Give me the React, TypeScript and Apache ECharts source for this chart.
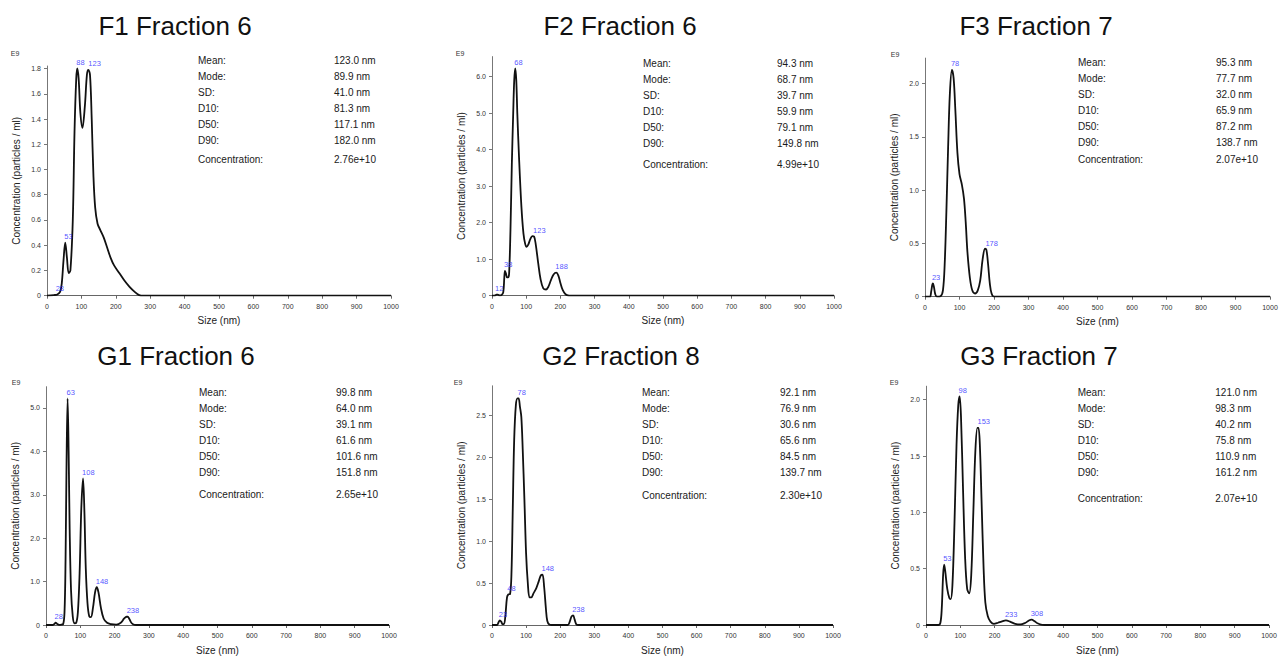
import React, { useEffect, useRef } from "react";
import * as echarts from "echarts";

// ---------- DATA ----------
const titles = ["F1 Fraction 6", "F2 Fraction 6", "F3 Fraction 7", "G1 Fraction 6", "G2 Fraction 8", "G3 Fraction 7"];
const statLabels = ["Mean:", "Mode:", "SD:", "D10:", "D50:", "D90:", "Concentration:"];

const f1Stats = ["123.0 nm", "89.9 nm", "41.0 nm", "81.3 nm", "117.1 nm", "182.0 nm", "2.76e+10"];
const f2Stats = ["94.3 nm", "68.7 nm", "39.7 nm", "59.9 nm", "79.1 nm", "149.8 nm", "4.99e+10"];
const f3Stats = ["95.3 nm", "77.7 nm", "32.0 nm", "65.9 nm", "87.2 nm", "138.7 nm", "2.07e+10"];
const g1Stats = ["99.8 nm", "64.0 nm", "39.1 nm", "61.6 nm", "101.6 nm", "151.8 nm", "2.65e+10"];
const g2Stats = ["92.1 nm", "76.9 nm", "30.6 nm", "65.6 nm", "84.5 nm", "139.7 nm", "2.30e+10"];
const g3Stats = ["121.0 nm", "98.3 nm", "40.2 nm", "75.8 nm", "110.9 nm", "161.2 nm", "2.07e+10"];

const f1YTicks = [0, 0.2, 0.4, 0.6, 0.8, 1.0, 1.2, 1.4, 1.6, 1.8];
const f2YTicks = [0, 1, 2, 3, 4, 5, 6];
const f3YTicks = [0, 0.5, 1.0, 1.5, 2.0];
const g1YTicks = [0, 1, 2, 3, 4, 5];
const g2YTicks = [0, 0.5, 1.0, 1.5, 2.0, 2.5];
const g3YTicks = [0, 0.5, 1.0, 1.5, 2.0];

// Size (nm) and concentration (E9 particles / ml)
const f1Size = [0, 20, 30, 38, 43, 48, 53, 58, 63, 68, 75, 80, 85, 88, 92, 97, 103, 110, 116, 120, 125, 130, 135, 140, 147, 155, 165, 175, 185, 195, 210, 225, 240, 255, 268, 280, 1000];
const f1Conc = [0, 0.005, 0.01, 0.03, 0.1, 0.28, 0.42, 0.3, 0.18, 0.2, 0.6, 1.3, 1.72, 1.8, 1.72, 1.45, 1.33, 1.5, 1.75, 1.79, 1.75, 1.4, 0.95, 0.7, 0.57, 0.52, 0.46, 0.38, 0.3, 0.24, 0.18, 0.12, 0.07, 0.03, 0.005, 0, 0];

const f2Size = [0, 10, 13, 17, 22, 28, 33, 36, 38, 41, 44, 47, 50, 54, 58, 62, 65, 68, 71, 74, 79, 86, 92, 97, 101, 106, 112, 118, 123, 128, 135, 142, 150, 158, 165, 172, 180, 188, 194, 200, 207, 215, 225, 235, 1000];
const f2Conc = [0, 0.01, 0.03, 0.03, 0.01, 0.02, 0.1, 0.5, 0.68, 0.6, 0.5, 0.5, 0.6, 1.8, 3.6, 5.0, 5.9, 6.23, 5.9, 5.0, 3.8, 2.44, 1.7, 1.42, 1.34, 1.4, 1.55, 1.63, 1.62, 1.4, 0.9, 0.45, 0.2, 0.17, 0.25, 0.42, 0.58, 0.63, 0.55, 0.35, 0.15, 0.04, 0.005, 0, 0];

const f3Size = [0, 14, 18, 21, 23, 26, 30, 35, 45, 52, 57, 62, 67, 72, 78, 83, 88, 94, 100, 107, 113, 118, 123, 130, 137, 145, 153, 160, 167, 174, 178, 183, 188, 193, 200, 1000];
const f3Conc = [0, 0, 0.05, 0.11, 0.125, 0.09, 0.02, 0, 0.005, 0.06, 0.3, 0.8, 1.4, 1.9, 2.13, 2.05, 1.75, 1.35, 1.15, 1.05, 0.92, 0.7, 0.42, 0.18, 0.06, 0.03, 0.06, 0.15, 0.35, 0.45, 0.44, 0.3, 0.12, 0.03, 0, 0];

const g1Size = [0, 20, 25, 28, 32, 38, 45, 50, 54, 57, 60, 63, 66, 69, 73, 78, 83, 88, 93, 98, 103, 108, 112, 116, 121, 126, 131, 137, 143, 148, 153, 160, 168, 178, 190, 205, 218, 228, 235, 238, 243, 250, 258, 270, 1000];
const g1Conc = [0, 0, 0.03, 0.055, 0.03, 0.005, 0.01, 0.02, 0.3, 1.5, 3.8, 5.22, 4.0, 2.2, 0.8, 0.2, 0.04, 0.05, 0.3, 1.2, 2.7, 3.38, 2.6, 1.3, 0.5, 0.2, 0.18, 0.4, 0.75, 0.87, 0.75, 0.4, 0.15, 0.05, 0.02, 0.01, 0.05, 0.15, 0.19, 0.19, 0.14, 0.04, 0.005, 0, 0];

const g2Size = [0, 15, 19, 23, 27, 31, 35, 39, 44, 48, 53, 57, 61, 65, 70, 75, 78, 82, 86, 90, 95, 100, 105, 110, 115, 122, 130, 137, 143, 148, 153, 158, 162, 168, 175, 222, 228, 233, 238, 242, 247, 253, 1000];
const g2Conc = [0, 0, 0.03, 0.055, 0.04, 0.01, 0.01, 0.1, 0.33, 0.365, 0.37, 0.6, 1.4, 2.2, 2.62, 2.7, 2.7, 2.6, 2.48, 2.1, 1.5, 0.85, 0.5, 0.33, 0.33, 0.38, 0.44, 0.52, 0.59, 0.6, 0.45, 0.2, 0.05, 0.005, 0, 0, 0.04, 0.1, 0.115, 0.07, 0.01, 0, 0];

const g3Size = [0, 36, 42, 46, 50, 53, 56, 62, 68, 72, 77, 83, 89, 94, 98, 102, 108, 114, 120, 126, 132, 138, 144, 150, 153, 157, 162, 168, 173, 180, 188, 198, 210, 220, 233, 245, 260, 275, 290, 300, 308, 316, 325, 335, 345, 1000];
const g3Conc = [0, 0, 0.02, 0.15, 0.45, 0.535, 0.48, 0.32, 0.24, 0.23, 0.35, 0.9, 1.6, 1.95, 2.03, 1.85, 1.2, 0.6, 0.32, 0.28, 0.45, 1.0, 1.55, 1.75, 1.75, 1.6, 1.1, 0.5, 0.2, 0.08, 0.03, 0.01, 0.02, 0.03, 0.041, 0.03, 0.01, 0.005, 0.02, 0.04, 0.047, 0.035, 0.015, 0.003, 0, 0];

// Labelled peaks
const f1PeakSize = [28, 53, 88, 123];
const f1PeakConc = [0.01, 0.42, 1.8, 1.79];
const f2PeakSize = [12, 38, 68, 123, 188];
const f2PeakConc = [0.03, 0.68, 6.23, 1.62, 0.63];
const f3PeakSize = [23, 78, 178];
const f3PeakConc = [0.125, 2.13, 0.44];
const g1PeakSize = [28, 63, 108, 148, 238];
const g1PeakConc = [0.055, 5.22, 3.38, 0.87, 0.19];
const g2PeakSize = [23, 48, 78, 148, 238];
const g2PeakConc = [0.055, 0.365, 2.7, 0.6, 0.115];
const g3PeakSize = [53, 98, 153, 233, 308];
const g3PeakConc = [0.535, 2.03, 1.75, 0.041, 0.047];

// ---------- LAYOUT ----------
const layouts = [
  { left: 47, width: 344, top: 66, height: 229.7, yMax: 1.82, titleX: 175, titleY: 26, e9X: 15, e9Y: 53, lx: 198, vx: 334, rows: [60, 76, 92, 108, 124, 140, 159.3] },
  { left: 492, width: 342, top: 56.6, height: 239.1, yMax: 6.55, titleX: 620, titleY: 26, e9X: 460, e9Y: 53.3, lx: 643, vx: 777, rows: [63.3, 79.3, 95, 111, 127, 143, 164] },
  { left: 925, width: 345, top: 58.1, height: 238.6, yMax: 2.24, titleX: 1036, titleY: 26, e9X: 895, e9Y: 54, lx: 1078, vx: 1216, rows: [62.7, 78, 94, 110, 126, 142, 159.3] },
  { left: 46, width: 343, top: 386.7, height: 239, yMax: 5.49, titleX: 176, titleY: 356, e9X: 16, e9Y: 382.7, lx: 199, vx: 336, rows: [392.7, 408.7, 424.7, 440.7, 456.7, 472, 494.7] },
  { left: 492, width: 341, top: 385.8, height: 239.9, yMax: 2.85, titleX: 621, titleY: 356, e9X: 458, e9Y: 382, lx: 642, vx: 780, rows: [392.7, 408.7, 424.7, 440.7, 456.7, 472.7, 495.3] },
  { left: 926, width: 343, top: 386.2, height: 239.1, yMax: 2.12, titleX: 1039, titleY: 356, e9X: 894, e9Y: 382, lx: 1077.7, vx: 1215.3, rows: [392.7, 408.7, 424.7, 440.7, 456.7, 472.7, 498] },
];

const panels = [
  { size: f1Size, conc: f1Conc, pS: f1PeakSize, pC: f1PeakConc, ticks: f1YTicks, stats: f1Stats },
  { size: f2Size, conc: f2Conc, pS: f2PeakSize, pC: f2PeakConc, ticks: f2YTicks, stats: f2Stats },
  { size: f3Size, conc: f3Conc, pS: f3PeakSize, pC: f3PeakConc, ticks: f3YTicks, stats: f3Stats },
  { size: g1Size, conc: g1Conc, pS: g1PeakSize, pC: g1PeakConc, ticks: g1YTicks, stats: g1Stats },
  { size: g2Size, conc: g2Conc, pS: g2PeakSize, pC: g2PeakConc, ticks: g2YTicks, stats: g2Stats },
  { size: g3Size, conc: g3Conc, pS: g3PeakSize, pC: g3PeakConc, ticks: g3YTicks, stats: g3Stats },
];

const FONT = "Liberation Sans, Arial, sans-serif";

export default function App() {
  const ref = useRef<HTMLDivElement>(null);
  useEffect(() => {
    if (!ref.current) return;
    const chart = echarts.init(ref.current, null, { renderer: "svg" });
    const grid: any[] = [];
    const xAxis: any[] = [];
    const yAxis: any[] = [];
    const series: any[] = [];
    const graphic: any[] = [];
    panels.forEach((p, i) => {
      const L = layouts[i];
      grid.push({ left: L.left, top: L.top, width: L.width, height: L.height, containLabel: false });
      xAxis.push({
        type: "value", gridIndex: i, min: 0, max: 1000, interval: 100,
        name: "Size (nm)", nameLocation: "middle", nameGap: 20,
        nameTextStyle: { fontFamily: FONT, fontSize: 10, color: "#222" },
        axisLine: { show: true, lineStyle: { color: "#666", width: 1 } },
        axisTick: { show: true, length: 3, lineStyle: { color: "#666" } },
        axisLabel: {
          show: true, fontFamily: FONT, fontSize: 7, color: "#333", margin: 7,
          showMaxLabel: true, showMinLabel: true, hideOverlap: false,
          formatter: (v: number) => String(v),
        },
        splitLine: { show: false },
      });
      yAxis.push({
        type: "value", gridIndex: i, min: 0, max: L.yMax,
        name: "Concentration (particles / ml)", nameLocation: "middle", nameGap: 26,
        nameTextStyle: { fontFamily: FONT, fontSize: 10, color: "#222" },
        axisLine: { show: true, lineStyle: { color: "#777", width: 1 } },
        axisTick: { show: true, length: 3, lineStyle: { color: "#777" }, customValues: p.ticks },
        axisLabel: {
          show: true, fontFamily: FONT, fontSize: 7, color: "#333", margin: 6,
          customValues: p.ticks,
          formatter: (v: number) => (v === 0 ? "0" : v.toFixed(1)),
        },
        splitLine: { show: false },
      });
      series.push({
        type: "line", xAxisIndex: i, yAxisIndex: i, smooth: 0.35, showSymbol: false, symbol: "none",
        lineStyle: { color: "#111", width: 1.8 }, silent: true, z: 2,
        data: p.size.map((s, k) => [s, p.conc[k]]),
      });
      series.push({
        type: "scatter", xAxisIndex: i, yAxisIndex: i, symbolSize: 2, silent: true, z: 3,
        itemStyle: { color: "rgba(0,0,0,0)" },
        label: {
          show: true, position: [0, -9], fontFamily: FONT, fontSize: 7.5, color: "#1f1fff",
          formatter: (d: any) => String(d.value[0]),
        },
        labelLayout: { hideOverlap: false },
        data: p.pS.map((s, k) => [s, p.pC[k]]),
      });
      graphic.push({
        type: "text", x: L.titleX, y: L.titleY,
        style: { text: titles[i], fontFamily: FONT, fontSize: 26, fill: "#111", textAlign: "center", textVerticalAlign: "middle" },
      });
      graphic.push({
        type: "text", x: L.e9X, y: L.e9Y,
        style: { text: "E9", fontFamily: FONT, fontSize: 7, fill: "#333", textAlign: "center", textVerticalAlign: "middle" },
      });
      statLabels.forEach((lab, r) => {
        graphic.push({
          type: "text", x: L.lx, y: L.rows[r],
          style: { text: lab, fontFamily: FONT, fontSize: 10, fill: "#1a1a1a", textAlign: "left", textVerticalAlign: "middle" },
        });
        graphic.push({
          type: "text", x: L.vx, y: L.rows[r],
          style: { text: p.stats[r], fontFamily: FONT, fontSize: 10, fill: "#1a1a1a", textAlign: "left", textVerticalAlign: "middle" },
        });
      });
    });
    chart.setOption({
      animation: false,
      backgroundColor: "#ffffff",
      grid, xAxis, yAxis, series, graphic,
    });
    return () => chart.dispose();
  }, []);
  return <div ref={ref} style={{ position: "fixed", left: 0, top: 0, width: 1284, height: 656, background: "#fff" }} />;
}
